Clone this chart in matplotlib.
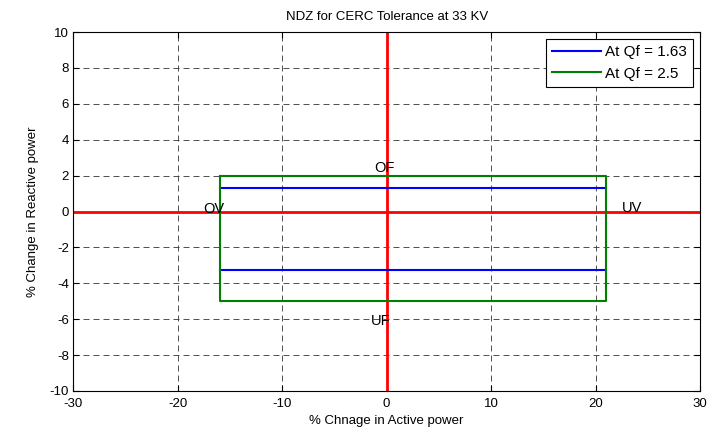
import matplotlib
matplotlib.use("Agg")
import matplotlib.pyplot as plt

plt.rcParams['font.family'] = ['Liberation Sans', 'DejaVu Sans']
plt.rcParams['axes.unicode_minus'] = False
plt.rcParams['lines.scale_dashes'] = False

# box corners (% change in active power, % change in reactive power)
p_left, p_right = -16, 21
q_blue = [1.3, -3.25]          # Qf = 1.63
q_green = [2.0, -5.0]          # Qf = 2.5

labels = ['OF', 'UF', 'OV', 'UV']
label_x = [-1.2, -1.5, -17.6, 22.5]
label_y = [2.4, -6.1, 0.15, 0.2]

fig = plt.figure(figsize=(7.15, 4.33), dpi=100)
ax = fig.add_axes([0.1025, 0.097, 0.8765, 0.829])

ax.plot([0, 0], [-10, 10], color='red', lw=2)
ax.plot([-30, 30], [0, 0], color='red', lw=2)

ax.plot([p_left, p_right], [q_blue[0], q_blue[0]], color='blue', lw=1.5, label='At Qf = 1.63')
ax.plot([p_left, p_right], [q_blue[1], q_blue[1]], color='blue', lw=1.5)

gx = [p_left, p_right, p_right, p_left, p_left]
gy = [q_green[0], q_green[0], q_green[1], q_green[1], q_green[0]]
ax.plot(gx, gy, color='green', lw=1.5, label='At Qf = 2.5')

for t, x, y in zip(labels, label_x, label_y):
    ax.text(x, y, t, fontsize=10.5, va='center', ha='left')

ax.set_xlim(-30, 30)
ax.set_ylim(-10, 10)
ax.set_xticks(range(-30, 31, 10))
ax.set_yticks(range(-10, 11, 2))
ax.set_axisbelow(True)
ax.grid(True, color='#333333', linestyle=(0, (4.3, 2.9)), lw=0.6)
ax.tick_params(direction='in', labelsize=9.5, top=True, right=True, length=4)
ax.tick_params(axis='x', pad=5)
ax.tick_params(axis='y', pad=3)
for s in ax.spines.values():
    s.set_linewidth(0.8)

ax.set_xlabel('% Chnage in Active power', fontsize=9.5, labelpad=4)
ax.set_ylabel('% Change in Reactive power', fontsize=9.5, labelpad=8)
ax.set_title('NDZ for CERC Tolerance at 33 KV', fontsize=9.5, pad=9)

leg = ax.legend(loc='upper right', fontsize=11, fancybox=False, framealpha=1,
                edgecolor='black', borderaxespad=0.45, handlelength=3.2,
                handletextpad=0.25, labelspacing=0.5)
leg.get_frame().set_linewidth(0.8)

fig.savefig('out.png', dpi=100)
